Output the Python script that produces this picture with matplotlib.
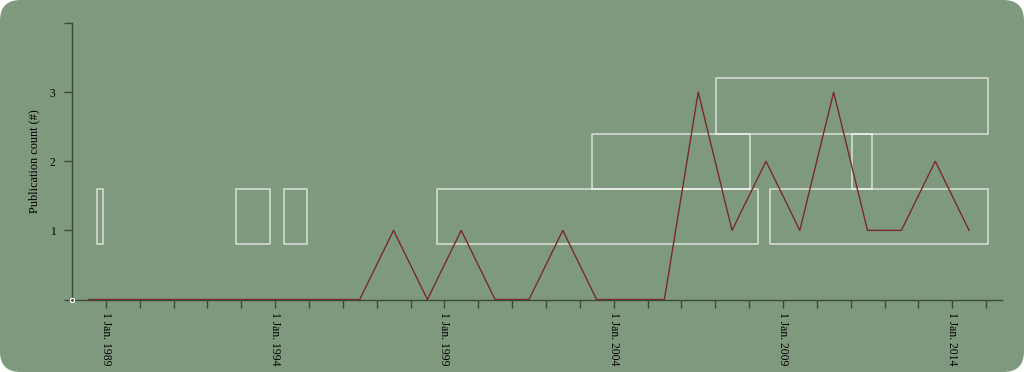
import datetime as dt
import matplotlib
matplotlib.use("Agg")
import matplotlib.pyplot as plt
import matplotlib.dates as mdates
from matplotlib.patches import FancyBboxPatch, Rectangle

# ---- data ----
years = list(range(1988, 2015))
counts = [0, 0, 0, 0, 0, 0, 0, 0, 0, 1, 0, 1, 0, 0, 1, 0, 0, 0, 3, 1, 2, 1, 3, 1, 1, 2, 1]

span_starts = ["1988-09-27", "1992-10-30", "1994-04-01", "1998-10-08", "2008-08-15",
               "2003-05-10", "2011-01-18", "2007-01-10"]
span_ends = ["1988-12-01", "1993-11-02", "1994-12-10", "2008-04-05", "2015-01-20",
             "2008-01-10", "2011-08-22", "2015-01-20"]
span_rows = [0, 0, 0, 0, 0, 1, 1, 2]

y_ticks = [0, 1, 2, 3, 4]
y_tick_labels = ["", "1", "2", "3", ""]
label_years = [1989, 1994, 1999, 2004, 2009, 2014]

BG = "#7e997e"
AX = "#3c4a3c"

plt.rcParams["font.family"] = ["Liberation Serif", "DejaVu Serif"]

fig = plt.figure(figsize=(10.24, 3.72), dpi=100)
fig.patch.set_facecolor("white")
fig.patches.append(FancyBboxPatch((0, 0), 1, 1, boxstyle="round,pad=0,rounding_size=0.02",
                                  transform=fig.transFigure, facecolor=BG, edgecolor="none",
                                  mutation_aspect=1024 / 372, zorder=-10))

ax = fig.add_axes([72 / 1024, (372 - 299.5) / 372, (1001.7 - 72) / 1024, (299.5 - 23) / 372])
ax.set_facecolor("none")

dates = [dt.date(y, 7, 1) for y in years]
ax.plot(dates, counts, color="#7a2a2a", lw=1.0, zorder=3)

row_h = 0.8
for s, e, r in zip(span_starts, span_ends, span_rows):
    d0 = mdates.date2num(dt.date.fromisoformat(s))
    d1 = mdates.date2num(dt.date.fromisoformat(e))
    y0 = 0.8 + r * row_h
    ax.add_patch(Rectangle((d0, y0), d1 - d0, row_h, facecolor="none",
                           edgecolor=(1, 1, 1, 0.6), lw=1.3, joinstyle="round", zorder=2))

ax.set_xlim(mdates.date2num(dt.date(1988, 1, 1)), mdates.date2num(dt.date(2015, 6, 18)))
ax.set_ylim(0, 4)

ax.set_xticks([mdates.date2num(dt.date(y, 1, 1)) for y in label_years])
ax.set_xticklabels([f"1 Jan. {y}" for y in label_years], rotation=-90, fontsize=8.4,
                   va="top", ha="center")
ax.set_xticks([mdates.date2num(dt.date(y, 1, 1)) for y in range(1989, 2016)], minor=True)
ax.tick_params(axis="x", which="both", length=6, width=1, color=AX, pad=3, direction="out")
ax.set_yticks(y_ticks)
ax.set_yticklabels(y_tick_labels, fontsize=8.3)
ax.tick_params(axis="y", length=6, width=1, color=AX, pad=6)

for sp in ["top", "right"]:
    ax.spines[sp].set_visible(False)
for sp in ["left", "bottom"]:
    ax.spines[sp].set_color(AX)
    ax.spines[sp].set_linewidth(1)

ax.set_ylabel("Publication count (#)", fontsize=8.8, labelpad=7)
ax.plot([0], [0], transform=ax.transAxes, marker="o", ms=3, mfc="none", mec="white",
        mew=0.8, clip_on=False, zorder=5)

fig.savefig("out.png", dpi=100, facecolor="white")
